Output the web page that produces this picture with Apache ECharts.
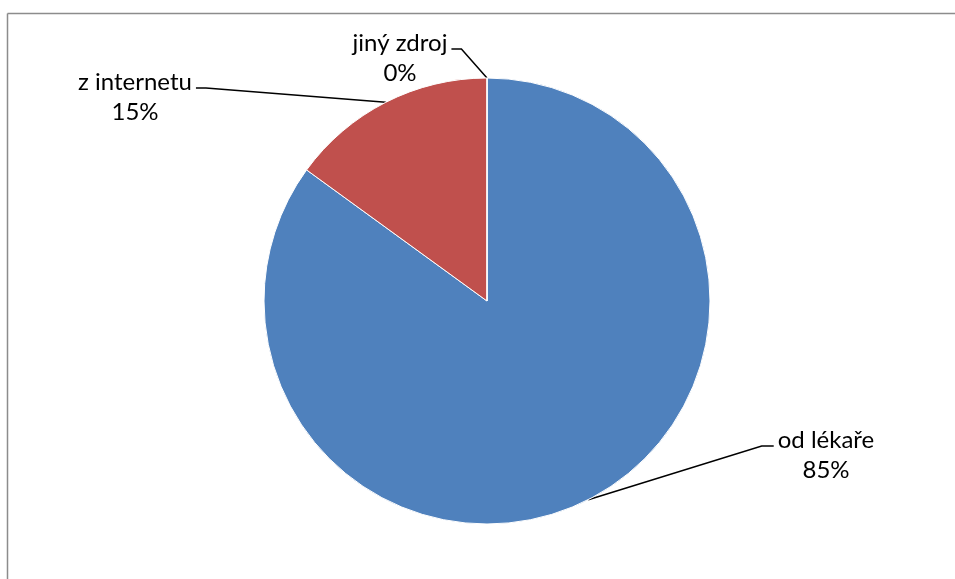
<!DOCTYPE html>
<html>
<head>
<meta charset="utf-8">
<script src="https://cdn.jsdelivr.net/npm/echarts@6/dist/echarts.min.js"></script>
<style>
  html, body { margin: 0; padding: 0; background: #fff; }
  #chart { width: 955px; height: 579px; }
</style>
</head>
<body>
<div id="chart"></div>
<script>
// Source of information, share of respondents
const categories = ['od lékaře', 'z internetu', 'jiný zdroj'];
const values = [85, 15, 0];
const colors = ['#4F81BD', '#C0504D', '#9BBB59'];

// Label box centres for each slice label
const labelCenters = [[826, 455], [135, 97], [400, 58]];

const chart = echarts.init(document.getElementById('chart'), null, { renderer: 'canvas' });

const option = {
  animation: false,
  backgroundColor: '#ffffff',
  graphic: [
    { type: 'line', shape: { x1: 7.5, y1: 13.5, x2: 960, y2: 13.5 }, style: { stroke: '#8c8c8c', lineWidth: 1.5 } },
    { type: 'line', shape: { x1: 7.5, y1: 13.5, x2: 7.5, y2: 590 }, style: { stroke: '#8c8c8c', lineWidth: 1.5 } }
  ],
  series: [{
    type: 'pie',
    center: [487, 301],
    radius: 223,
    startAngle: 90,
    clockwise: true,
    percentPrecision: 0,
    stillShowZeroSum: true,
    data: categories.map((name, i) => ({ name, value: values[i], itemStyle: { color: colors[i] } })),
    itemStyle: { borderColor: '#ffffff', borderWidth: 1 },
    label: {
      show: true,
      formatter: '{b}\n{d}%',
      fontFamily: 'Lato',
      fontSize: 24,
      lineHeight: 30,
      color: '#000000',
      align: 'center'
    },
    labelLine: {
      show: true,
      length: 10,
      length2: 10,
      lineStyle: { color: '#000000', width: 1.5 }
    },
    emphasis: { disabled: true },
    labelLayout: function (params) {
      const c = labelCenters[params.dataIndex];
      const w = params.labelRect.width;
      const anchor = params.labelLinePoints ? params.labelLinePoints[0] : [c[0], c[1]];
      const yLine = c[1] - 9;
      const onLeft = c[0] < anchor[0];
      const edgeX = onLeft ? c[0] + w / 2 + 4 : c[0] - w / 2 - 4;
      const elbowX = onLeft ? edgeX + 10 : edgeX - 12;
      return {
        x: c[0],
        y: c[1],
        align: 'center',
        verticalAlign: 'middle',
        labelLinePoints: [anchor, [elbowX, yLine], [edgeX, yLine]]
      };
    }
  }]
};

chart.setOption(option);
</script>
</body>
</html>
